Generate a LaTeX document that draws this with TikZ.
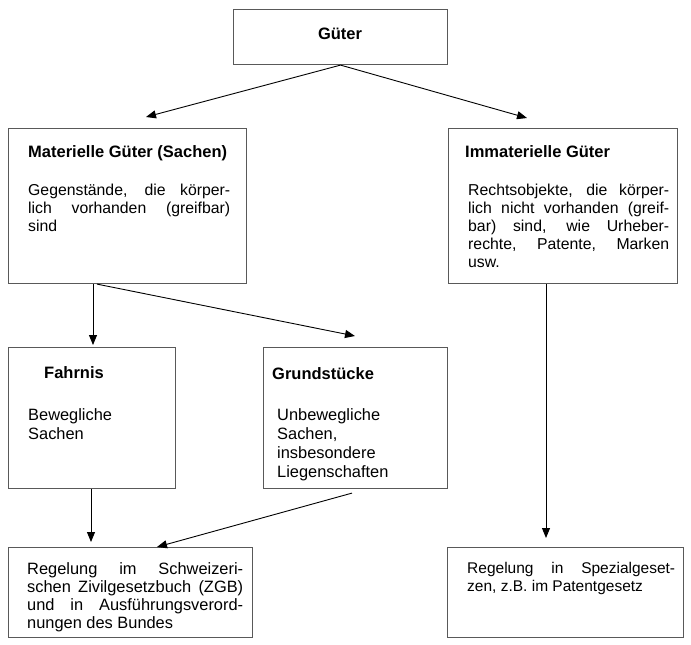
\documentclass[tikz,border=0pt]{standalone}
\usepackage{fontspec}
\setmainfont{Liberation Sans}
\usetikzlibrary{arrows.meta,calc}
\newcommand{\jline}[2]{\makebox[#1][s]{#2}}
\newcommand{\topstrut}{\rule{0pt}{12pt}}
\begin{document}
\begin{tikzpicture}[x=1pt,y=-1pt,
  box/.style={draw=black!65, line width=1.1pt, inner sep=0pt, anchor=north west},
  arr/.style={draw=black, line width=0.9pt, -{Triangle[length=10pt,width=8pt]}},
  ttl/.style={font=\fontsize{16.5}{19}\selectfont\bfseries, inner sep=0pt, anchor=base west},
  body/.style={font=\fontsize{15.8}{18}\selectfont, inner sep=0pt, anchor=north west, align=left},
  bodybig/.style={body, font=\fontsize{16.4}{18}\selectfont},
  bodywide/.style={body, font=\fontsize{16.4}{19.2}\selectfont},
  bodysmall/.style={body, font=\fontsize{15.5}{18}\selectfont},
]
\useasboundingbox (0,0) rectangle (691,645);
\fill[white] (0,0) rectangle (691,645);

% boxes
\node[box, minimum width=214pt, minimum height=55pt]  (guter) at (233,9)   {};
\node[box, minimum width=238pt, minimum height=155pt] (mat)   at (8,128)   {};
\node[box, minimum width=229pt, minimum height=155pt] (imm)   at (448,128) {};
\node[box, minimum width=167pt, minimum height=141pt] (fahr)  at (8,347)   {};
\node[box, minimum width=184pt, minimum height=141pt] (grund) at (263,347) {};
\node[box, minimum width=244pt, minimum height=90pt]  (zgb)   at (8,547)   {};
\node[box, minimum width=236pt, minimum height=90pt]  (spez)  at (447,547) {};

% titles
\node[ttl, anchor=base] (tguter) at (340,39) {Güter};
\node[ttl] (tmat)   at (28,157)  {Materielle Güter (Sachen)};
\node[ttl] (timm)   at (465,157) {Immaterielle Güter};
\node[ttl] (tfahr)  at (44,378)  {Fahrnis};
\node[ttl] (tgrund) at (272,379) {Grundstücke};

% bodies
\node[body] (bmat) at (28,183) {\topstrut\jline{202pt}{Gegenstände, die körper-}\\\jline{202pt}{lich vorhanden (greifbar)}\\sind};
\node[body] (bimm) at (468,183) {\topstrut\jline{201pt}{Rechtsobjekte, die körper-}\\\jline{201pt}{lich nicht vorhanden (greif-}\\\jline{201pt}{bar) sind, wie Urheber-}\\\jline{201pt}{rechte, Patente, Marken}\\usw.};
\node[bodywide] (bfahr) at (28,408) {\topstrut Bewegliche\\Sachen};
\node[bodywide] (bgrund) at (277,408) {\topstrut Unbewegliche\\Sachen,\\insbesondere\\Liegenschaften};
\node[bodybig] (bzgb) at (27,562) {\topstrut\jline{216pt}{Regelung im Schweizeri-}\\\jline{216pt}{schen Zivilgesetzbuch (ZGB)}\\\jline{216pt}{und in Ausführungsverord-}\\nungen des Bundes};
\node[bodysmall] (bspez) at (467,561) {\topstrut\jline{208pt}{Regelung in Spezialgeset-}\\zen, z.B. im Patentgesetz};

% connectors
\draw[arr] (guter.south) -- ($(mat.north west)+(138,-11)$);
\draw[arr] (guter.south) -- ($(imm.north west)+(79,-10)$);
\draw[arr] ($(mat.south west)+(85,0)$) -- ($(fahr.north west)+(85,-2)$);
\draw[arr] ($(mat.south west)+(89,0)$) -- ($(grund.north west)+(92,-11)$);
\draw[arr] ($(imm.south west)+(98,0)$) -- ($(spez.north west)+(99,-9)$);
\draw[arr] ($(fahr.south west)+(83,0)$) -- ($(zgb.north west)+(83,-5)$);
\draw[arr] ($(grund.south west)+(89,4)$) -- ($(zgb.north west)+(149,0)$);
\end{tikzpicture}
\end{document}
